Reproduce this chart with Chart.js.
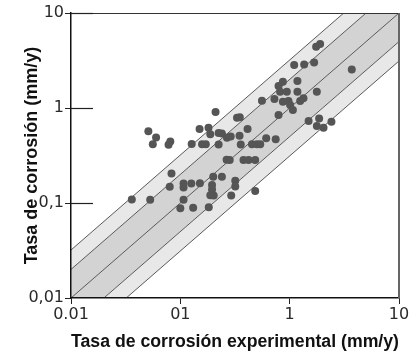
<!DOCTYPE html>
<html>
<head>
<meta charset="utf-8">
<script src="https://cdn.jsdelivr.net/npm/chart.js@4.4.1/dist/chart.umd.min.js"></script>
<style>
  html, body { margin: 0; padding: 0; background: #fff; }
</style>
</head>
<body>
<canvas id="chart" width="418" height="356"></canvas>
<script>
// axis ticks (the source figure labels them this way)
const xTickValues = [0.01, 0.1, 1, 10];
const xTickLabels = ['0.01', '01', '1', '10'];
const yTickValues = [0.01, 0.1, 1, 10];
const yTickLabels = ['0,01', '0,1', '1', '10'];

// measured (x) vs calculated (y) corrosion rate, mm/y
const expRate = [
  0.036, 0.053, 0.051, 0.060, 0.056, 0.081, 0.078, 0.083, 0.080, 0.100,
  0.107, 0.107, 0.107, 0.126, 0.151, 0.131, 0.182, 0.127, 0.158, 0.171,
  0.210, 0.150, 0.181, 0.188, 0.224, 0.240, 0.267, 0.289, 0.224, 0.265,
  0.283, 0.200, 0.240, 0.195, 0.195, 0.188, 0.202, 0.318, 0.318, 0.292,
  0.484, 0.330, 0.350, 0.348, 0.357, 0.412, 0.452, 0.501, 0.538, 0.610,
  0.745, 0.378, 0.421, 0.484, 0.558, 0.726, 0.867, 0.975, 1.01, 1.247,
  1.337, 1.07, 0.791, 0.867, 0.791, 1.178, 0.818, 0.942, 1.178, 1.772,
  1.10, 1.357, 1.674, 1.90, 1.746, 3.70, 1.49, 1.86, 1.772, 2.04,
  2.41
];
const calcRate = [
  0.109, 0.108, 0.57, 0.49, 0.415, 0.445, 0.41, 0.205, 0.148, 0.088,
  0.108, 0.160, 0.146, 0.160, 0.161, 0.089, 0.090, 0.418, 0.416, 0.416,
  0.91, 0.60, 0.62, 0.53, 0.545, 0.54, 0.485, 0.50, 0.413, 0.286,
  0.284, 0.189, 0.189, 0.155, 0.139, 0.121, 0.120, 0.171, 0.149, 0.120,
  0.134, 0.79, 0.80, 0.51, 0.413, 0.60, 0.416, 0.416, 0.416, 0.48,
  0.47, 0.284, 0.284, 0.284, 1.19, 1.24, 1.165, 1.185, 1.076, 1.185,
  1.265, 0.953, 0.844, 1.89, 1.70, 1.92, 1.48, 1.48, 1.48, 1.48,
  2.84, 2.87, 3.01, 4.72, 4.41, 2.55, 0.73, 0.775, 0.647, 0.62,
  0.718
];

// agreement band lines, end points well outside the plot (clipped)
const bandX = [0.001, 100];
const lowerOuterY = [0.0003125, 31.25];
const lowerInnerY = [0.0005, 50];
const centerY = [0.001, 100];
const upperInnerY = [0.002, 200];
const upperOuterY = [0.0032, 320];

const tickFont = { family: 'DejaVu Sans', size: 16 };
const titleFont = { family: 'Liberation Sans', size: 18, weight: 'bold' };
const lightBand = '#e8e8e8';
const darkBand = '#d3d3d3';
const lineColor = '#5a5a5a';

function toPoints(xs, ys) {
  return xs.map((x, i) => ({ x: x, y: ys[i] }));
}

function bandLine(ys, fill, color) {
  return {
    data: toPoints(bandX, ys),
    showLine: true,
    borderColor: lineColor,
    borderWidth: 1,
    pointRadius: 0,
    fill: fill,
    backgroundColor: color,
    order: 1
  };
}

// top/right frame and the long inner ticks on the y axis
const framePlugin = {
  id: 'frame',
  afterDraw(chart) {
    const { ctx, chartArea: a, scales } = chart;
    ctx.save();
    ctx.strokeStyle = '#333';
    ctx.lineWidth = 1;
    ctx.beginPath();
    ctx.moveTo(a.left, a.top + 0.5);
    ctx.lineTo(a.right, a.top + 0.5);
    ctx.stroke();
    ctx.strokeStyle = '#666';
    ctx.lineWidth = 2;
    ctx.beginPath();
    ctx.moveTo(a.right, a.top);
    ctx.lineTo(a.right, a.bottom);
    ctx.stroke();
    ctx.strokeStyle = '#222';
    ctx.lineWidth = 1.2;
    yTickValues.slice(1).forEach(v => {
      const py = Math.round(scales.y.getPixelForValue(v)) + 0.5;
      ctx.beginPath();
      ctx.moveTo(a.left, py);
      ctx.lineTo(a.left + 22, py);
      ctx.stroke();
    });
    ctx.restore();
  }
};

const ctx = document.getElementById('chart').getContext('2d');
new Chart(ctx, {
  type: 'scatter',
  data: {
    datasets: [
      bandLine(lowerOuterY, false, lightBand),
      bandLine(lowerInnerY, '-1', lightBand),
      bandLine(centerY, false, darkBand),
      bandLine(upperInnerY, 1, darkBand),
      bandLine(upperOuterY, '-1', lightBand),
      {
        data: toPoints(expRate, calcRate),
        pointRadius: 4,
        pointBackgroundColor: '#555',
        pointBorderWidth: 0,
        order: -1
      }
    ]
  },
  options: {
    responsive: false,
    devicePixelRatio: 1,
    animation: false,
    layout: { padding: { top: 13, right: 19, left: 0, bottom: 0 } },
    plugins: {
      legend: { display: false },
      tooltip: { enabled: false }
    },
    scales: {
      x: {
        type: 'logarithmic',
        min: 0.01,
        max: 10,
        afterBuildTicks: s => { s.ticks = xTickValues.map(v => ({ value: v })); },
        afterFit: s => { s.height = 58; },
        ticks: {
          callback: (v, i) => xTickLabels[i],
          font: tickFont,
          color: '#2a2a2a',
          padding: 1,
          autoSkip: false,
          maxRotation: 0
        },
        grid: { drawOnChartArea: false, tickLength: 6, color: '#222' },
        border: { color: '#111', width: 1.5, z: 1 },
        title: {
          display: true,
          text: 'Tasa de corrosión experimental (mm/y)',
          font: titleFont,
          color: '#111',
          padding: { top: 0, bottom: 3 }
        }
      },
      y: {
        type: 'logarithmic',
        min: 0.01,
        max: 10,
        afterBuildTicks: s => { s.ticks = yTickValues.map(v => ({ value: v })); },
        afterFit: s => { s.width = 71; },
        ticks: {
          callback: (v, i) => yTickLabels[i],
          font: tickFont,
          color: '#2a2a2a',
          padding: 1,
          autoSkip: false
        },
        grid: { drawOnChartArea: false, tickLength: 6, color: '#222' },
        border: { color: '#111', width: 1.5, z: 1 },
        title: {
          display: true,
          text: 'Tasa de corrosión (mm/y)',
          font: titleFont,
          color: '#111',
          padding: { top: 21, bottom: 0 }
        }
      }
    }
  },
  plugins: [framePlugin]
});
</script>
</body>
</html>
